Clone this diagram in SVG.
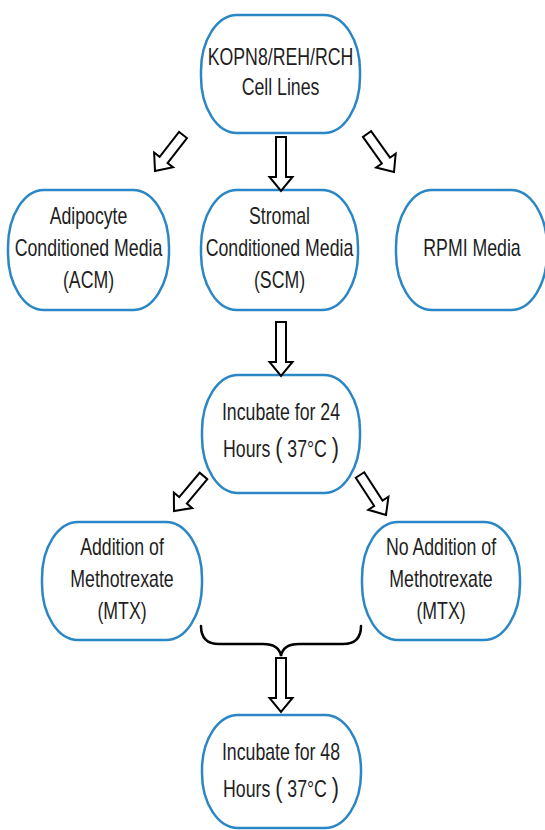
<svg xmlns="http://www.w3.org/2000/svg" width="545" height="830" viewBox="0 0 545 830">
<style>
.node{fill:#ffffff;stroke:#2a86c4;stroke-width:2.5}
.arr{fill:#ffffff;stroke:#000000;stroke-width:2;stroke-linejoin:miter}
.brace{fill:none;stroke:#000000;stroke-width:2.5;stroke-linecap:round}
.t{font-family:"Liberation Sans",Arial,sans-serif;font-size:23px;fill:#1e1e1e;text-anchor:middle}
.p{font-size:28px}
</style>
<rect width="545" height="830" fill="#ffffff"/>
<g id="n-cells">
<rect class="node" x="201" y="15" width="159" height="118" rx="36" ry="56"/>
<text class="t" transform="matrix(0.77 0 0 1 280.5 0)"><tspan x="0" y="65">KOPN8/REH/RCH</tspan><tspan x="0" y="95">Cell Lines</tspan></text>
</g>
<g id="n-acm">
<rect class="node" x="8" y="190" width="161" height="120" rx="36" ry="57"/>
<text class="t" transform="matrix(0.77 0 0 1 88.5 0)"><tspan x="0" y="224">Adipocyte</tspan><tspan x="0" y="256">Conditioned Media</tspan><tspan x="0" y="288">(ACM)</tspan></text>
</g>
<g id="n-scm">
<rect class="node" x="201" y="190" width="157" height="120" rx="36" ry="57"/>
<text class="t" transform="matrix(0.77 0 0 1 279.5 0)"><tspan x="0" y="224">Stromal</tspan><tspan x="0" y="256">Conditioned Media</tspan><tspan x="0" y="288">(SCM)</tspan></text>
</g>
<g id="n-rpmi">
<rect class="node" x="396" y="190" width="151" height="120" rx="36" ry="57"/>
<text class="t" transform="matrix(0.77 0 0 1 472 0)"><tspan x="0" y="256">RPMI Media</tspan></text>
</g>
<g id="n-inc24">
<rect class="node" x="202" y="375" width="158" height="118" rx="36" ry="56"/>
<text class="t" transform="matrix(0.77 0 0 1 281 0)"><tspan x="0" y="420">Incubate for 24</tspan><tspan x="0" y="457">Hours <tspan class="p">(</tspan> 37°C <tspan class="p">)</tspan></tspan></text>
</g>
<g id="n-add">
<rect class="node" x="42" y="522" width="160" height="118" rx="36" ry="56"/>
<text class="t" transform="matrix(0.77 0 0 1 122 0)"><tspan x="0" y="555">Addition of</tspan><tspan x="0" y="587">Methotrexate</tspan><tspan x="0" y="619">(MTX)</tspan></text>
</g>
<g id="n-noadd">
<rect class="node" x="362" y="522" width="158" height="118" rx="36" ry="56"/>
<text class="t" transform="matrix(0.77 0 0 1 441 0)"><tspan x="0" y="555">No Addition of</tspan><tspan x="0" y="587">Methotrexate</tspan><tspan x="0" y="619">(MTX)</tspan></text>
</g>
<g id="n-inc48">
<rect class="node" x="202" y="715" width="159" height="113" rx="36" ry="55"/>
<text class="t" transform="matrix(0.77 0 0 1 281 0)"><tspan x="0" y="760">Incubate for 48</tspan><tspan x="0" y="797">Hours <tspan class="p">(</tspan> 37°C <tspan class="p">)</tspan></tspan></text>
</g>
<g id="connectors">
<polygon class="arr" points="186.95,138.07 167.55,163.02 173.07,167.32 155,171 154.13,152.58 159.65,156.88 179.05,131.93"/>
<polygon class="arr" points="276,137 286,137 286,177 292.5,177 281,191 269.5,177 276,177"/>
<polygon class="arr" points="371.08,131.1 389.97,157.7 395.67,153.64 394,172 376.11,167.54 381.82,163.49 362.93,136.9"/>
<polygon class="arr" points="276,322 286,322 286,362 292.5,362 281,376 269.5,362 276,362"/>
<polygon class="arr" points="207.32,479.22 186.84,503.52 192.19,508.03 174,511 173.85,492.57 179.2,497.08 199.68,472.78"/>
<polygon class="arr" points="364.2,472.28 382.57,500.53 388.44,496.71 386,515 368.3,509.79 374.18,505.98 355.8,477.73"/>
<path class="brace" d="M201,626 Q201,644 219,644 L263,644 Q279,644 281,656 Q283,644 299,644 L343,644 Q361,644 361,626"/>
<polygon class="arr" points="276,658 286,658 286,698 292.5,698 281,712 269.5,698 276,698"/>
</g>
</svg>
